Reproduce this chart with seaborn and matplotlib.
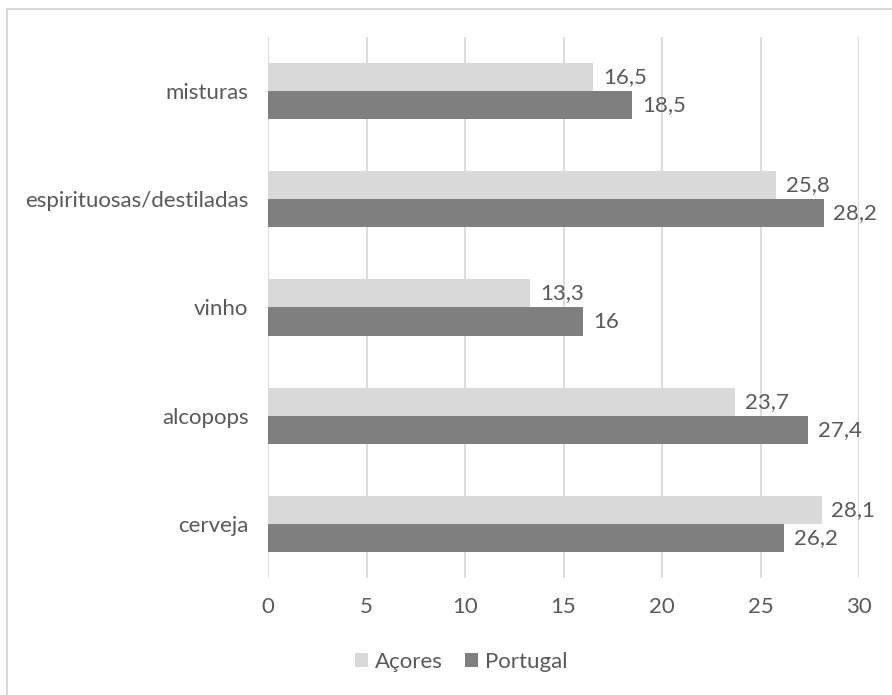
import matplotlib
matplotlib.use("Agg")
import matplotlib.pyplot as plt
from matplotlib.patches import Rectangle, Patch
import seaborn as sns
import pandas as pd

categories = ["misturas", "espirituosas/destiladas", "vinho", "alcopops", "cerveja"]
acores = [16.5, 25.8, 13.3, 23.7, 28.1]
portugal = [18.5, 28.2, 16.0, 27.4, 26.2]
series = ["Açores", "Portugal"]
x_ticks = [0, 5, 10, 15, 20, 25, 30]

colors = {"Açores": "#d9d9d9", "Portugal": "#7f7f7f"}
text_color = "#595959"
grid_color = "#d9d9d9"
fs = 16

df = pd.DataFrame({
    "categoria": categories * 2,
    "valor": acores + portugal,
    "serie": [series[0]] * len(categories) + [series[1]] * len(categories),
})

sns.set_theme(style="white")
plt.rcParams["font.family"] = ["Lato", "DejaVu Sans"]
plt.rcParams["font.size"] = fs

fig = plt.figure(figsize=(8.92, 6.95), dpi=100)
ax = fig.add_axes([268 / 892, 1 - 578 / 695, (859 - 268) / 892, (578 - 37) / 695])

sns.barplot(data=df, y="categoria", x="valor", hue="serie", order=categories,
            hue_order=series, palette=colors, orient="h", width=0.52,
            saturation=1, linewidth=0, ax=ax, legend=False)

for container in ax.containers:
    ax.bar_label(container, fmt=lambda v: f"{v:g}".replace(".", ","),
                 padding=7, color=text_color, fontsize=fs)

ax.set_xlim(0, 30)
ax.set_xticks(x_ticks)
ax.set_xticklabels([str(t) for t in x_ticks])
ax.set_xlabel("")
ax.set_ylabel("")
ax.grid(axis="x", color=grid_color, linewidth=1.3)
ax.set_axisbelow(True)
for s in ax.spines.values():
    s.set_visible(False)
ax.tick_params(axis="x", length=0, pad=14, colors=text_color, labelsize=fs)
ax.tick_params(axis="y", length=0, pad=14, colors=text_color, labelsize=fs)

handles = [Patch(facecolor=colors[s], edgecolor="none") for s in series]
fig.legend(handles, series, loc="center", bbox_to_anchor=(461 / 892, 1 - 662 / 695),
           ncol=2, frameon=False, fontsize=fs, labelcolor=text_color,
           handlelength=0.6, handleheight=0.6, handletextpad=0.3, columnspacing=1.0)

fig.patches.append(Rectangle((7 / 892, -0.1), 1.2, 1.1 - 9 / 695,
                             transform=fig.transFigure, fill=False,
                             edgecolor="#d9d9d9", linewidth=1.5))

fig.savefig("out.png", dpi=100)
